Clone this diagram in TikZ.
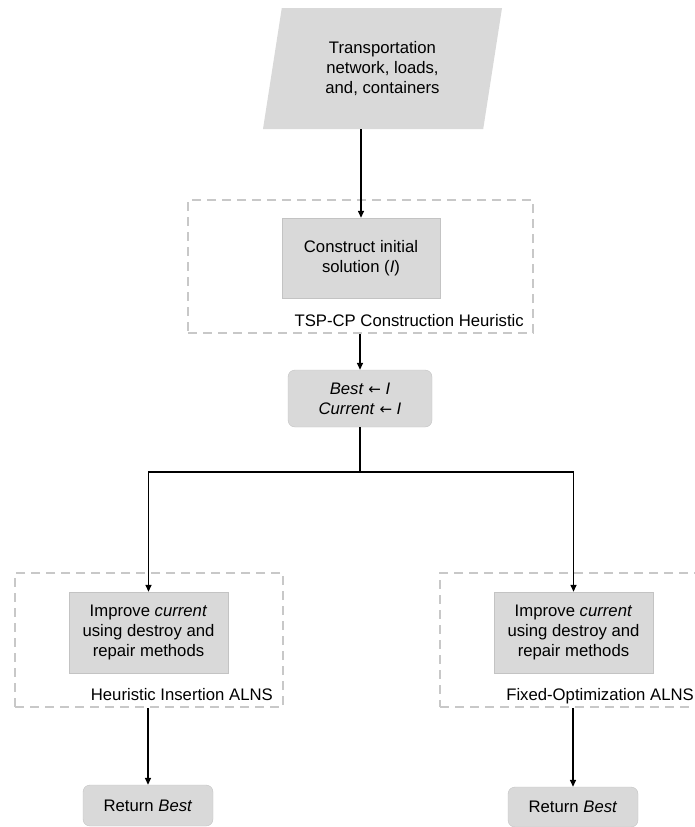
\documentclass[tikz,border=0pt]{standalone}
\usepackage{fontspec}
\setmainfont{Liberation Sans}
\newfontfamily\symfont{DejaVu Sans}
\usetikzlibrary{arrows.meta,positioning,shapes.geometric}
\definecolor{boxgray}{RGB}{217,217,217}
\definecolor{framegray}{RGB}{200,200,200}
\newcommand{\getsarrow}{{\symfont\fontsize{15}{20}\selectfont ←}}

\begin{document}
\begin{tikzpicture}[x=1pt,y=-1pt,
      every node/.style={font=\fontsize{16.7}{20}\selectfont,align=center,inner sep=0pt},
      inbox/.style={trapezium,trapezium left angle=70.9,trapezium right angle=109.1,
                  trapezium stretches body,fill=boxgray,minimum width=239,minimum height=121},
      frame/.style={draw=framegray,line width=2pt,dash pattern=on 9pt off 6pt},
      proc/.style={fill=boxgray,draw=boxgray!90!black,line width=0.4pt,minimum width=158,minimum height=80},
      rbox/.style={fill=boxgray,draw=boxgray!90!black,line width=0.4pt,rounded corners=7pt},
      lbl/.style={anchor=base east},
      ln/.style={draw=black,line width=1.4pt},
      ar/.style={-{Triangle[length=7pt,width=6pt]},draw=black,line width=1.4pt}
    ]
    \useasboundingbox (0,0) rectangle (695,827);
    \clip (0,0) rectangle (695,827);

    \node[inbox] (input) at (382.5,68.5) {Transportation\\network, loads,\\and, containers};

    \node[frame,minimum width=345,minimum height=133] (f1) at (360.5,266.5) {};
    \node[proc] (cons) at (361,258) {Construct initial\\solution (\textit{I})};
    \node[lbl] (l1) at ([xshift=-10,yshift=8]f1.south east) {TSP-CP Construction Heuristic};

    \node[rbox,minimum width=144,minimum height=57] (best) at (360,398.5)
         {\textit{Best} \getsarrow{} \textit{I}\\\textit{Current} \getsarrow{} \textit{I}};
    \coordinate (split) at (360,472);

    \node[frame,minimum width=268,minimum height=134] (f2) at (149,640) {};
    \node[frame,minimum width=267,minimum height=134] (f3) at (573.5,640) {};
    \node[proc,minimum width=159,minimum height=81] (imp1) at (148.5,632.5)
         {Improve \textit{current}\\using destroy and\\repair methods};
    \node[proc,minimum width=159,minimum height=81] (imp2) at (573.5,632.5)
         {Improve \textit{current}\\using destroy and\\repair methods};
    \node[lbl] (l2) at ([xshift=-11,yshift=8]f2.south east) {Heuristic Insertion ALNS};
    \node[lbl] (l3) at ([xshift=-14,yshift=8]f3.south east) {Fixed-Optimization ALNS};

    \node[rbox,minimum width=130,minimum height=41] (ret1) at (148,805.5) {Return \textit{Best}};
    \node[rbox,minimum width=130,minimum height=40] (ret2) at (573,807) {Return \textit{Best}};

    \draw[ar] (input.south -| cons.north) -- (cons.north);
    \draw[ar] (f1.south -| best.north) -- (best.north);
    \draw[ln] (best.south) -- (split);
    \draw[ar] (split) -| (imp1.north);
    \draw[ar] (split) -| (imp2.north);
    \draw[ar] (f2.south -| ret1.north) -- (ret1.north);
    \draw[ar] (f3.south -| ret2.north) -- (ret2.north);
  \end{tikzpicture}
\end{document}
